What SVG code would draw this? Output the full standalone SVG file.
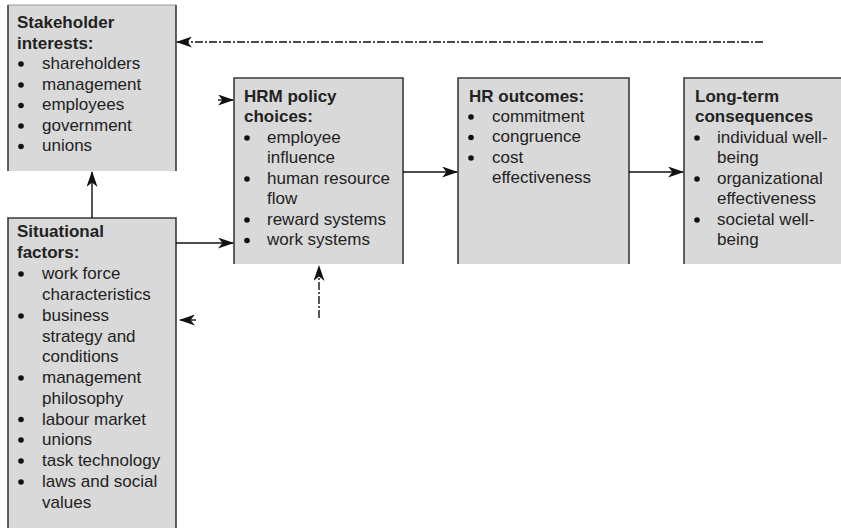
<svg xmlns="http://www.w3.org/2000/svg" width="841" height="530" viewBox="0 0 841 530">
<style>
.box{fill:#d9d9d9;stroke:none}
.edge{fill:none;stroke:#3a3a3a;stroke-width:1.6}
.edge-light{fill:none;stroke:#9a9a9a;stroke-width:1.2}
text{font-family:"Liberation Sans",Arial,sans-serif;font-size:17px;fill:#222}
.h{font-weight:bold}
.b{fill:#111}
.c{fill:none;stroke:#111;stroke-width:1.4}
.d{fill:none;stroke:#111;stroke-width:1.4;stroke-dasharray:8,2,2,2}
</style>
<defs>
<marker id="ah" viewBox="0 0 16 11" refX="15" refY="5.5" markerWidth="16" markerHeight="11" markerUnits="userSpaceOnUse" orient="auto">
<path d="M0,0 L16,5.5 L0,11 L4.5,5.5 z" fill="#111"/>
</marker>
</defs>
<rect width="841" height="530" fill="#fff"/>

<g id="stakeholder">
<rect class="box" x="8" y="5" width="168" height="166"/>
<path class="edge-light" d="M8,5 H176"/>
<path class="edge" d="M8,5 V171 M176,5 V171"/>
<text class="h" x="17" y="28">Stakeholder</text>
<text class="h" x="17" y="48.5">interests:</text>
<circle class="b" cx="21" cy="64" r="2.8"/><text x="42" y="69">shareholders</text>
<circle class="b" cx="21" cy="85" r="2.8"/><text x="42" y="89.5">management</text>
<circle class="b" cx="21" cy="105.5" r="2.8"/><text x="42" y="110">employees</text>
<circle class="b" cx="21" cy="126" r="2.8"/><text x="42" y="130.5">government</text>
<circle class="b" cx="21" cy="146.5" r="2.8"/><text x="42" y="151">unions</text>
</g>

<g id="situational">
<rect class="box" x="8" y="218" width="168" height="310"/>
<path class="edge" d="M8,528 V218 H176 V528"/>
<text class="h" x="17" y="237">Situational</text>
<text class="h" x="17" y="258">factors:</text>
<circle class="b" cx="21" cy="274" r="2.8"/><text x="42" y="279">work force</text>
<text x="42" y="300">characteristics</text>
<circle class="b" cx="21" cy="316" r="2.8"/><text x="42" y="321">business</text>
<text x="42" y="341.5">strategy and</text>
<text x="42" y="362">conditions</text>
<circle class="b" cx="21" cy="378" r="2.8"/><text x="42" y="383">management</text>
<text x="42" y="403.5">philosophy</text>
<circle class="b" cx="21" cy="419.5" r="2.8"/><text x="42" y="424.5">labour market</text>
<circle class="b" cx="21" cy="440" r="2.8"/><text x="42" y="445">unions</text>
<circle class="b" cx="21" cy="461" r="2.8"/><text x="42" y="466">task technology</text>
<circle class="b" cx="21" cy="482" r="2.8"/><text x="42" y="487">laws and social</text>
<text x="42" y="507.5">values</text>
</g>

<g id="hrm">
<rect class="box" x="234" y="78" width="169" height="186"/>
<path class="edge" d="M234,264 V78 H403 V264"/>
<text class="h" x="244" y="101.5">HRM policy</text>
<text class="h" x="244" y="122">choices:</text>
<circle class="b" cx="247" cy="138" r="2.8"/><text x="267" y="142.5">employee</text>
<text x="267" y="163">influence</text>
<circle class="b" cx="247" cy="179" r="2.8"/><text x="267" y="183.5">human resource</text>
<text x="267" y="204">flow</text>
<circle class="b" cx="247" cy="220" r="2.8"/><text x="267" y="224.5">reward systems</text>
<circle class="b" cx="247" cy="240.5" r="2.8"/><text x="267" y="245">work systems</text>
</g>

<g id="hr-outcomes">
<rect class="box" x="458" y="78" width="171" height="186"/>
<path class="edge" d="M458,264 V78 H629 V264"/>
<text class="h" x="469" y="101.5">HR outcomes:</text>
<circle class="b" cx="471" cy="117" r="2.8"/><text x="492" y="121.5">commitment</text>
<circle class="b" cx="471" cy="137.5" r="2.8"/><text x="492" y="142">congruence</text>
<circle class="b" cx="471" cy="158" r="2.8"/><text x="492" y="162.5">cost</text>
<text x="492" y="183">effectiveness</text>
</g>

<g id="long-term">
<rect class="box" x="684" y="78" width="157" height="186"/>
<path class="edge" d="M684,264 V78 H841"/>
<text class="h" x="695" y="101.5">Long-term</text>
<text class="h" x="695" y="122">consequences</text>
<circle class="b" cx="697" cy="138" r="2.8"/><text x="717" y="142.5">individual well-</text>
<text x="717" y="163">being</text>
<circle class="b" cx="697" cy="179" r="2.8"/><text x="717" y="183.5">organizational</text>
<text x="717" y="204">effectiveness</text>
<circle class="b" cx="697" cy="220" r="2.8"/><text x="717" y="224.5">societal well-</text>
<text x="717" y="245">being</text>
</g>

<g id="connectors">
<path class="c" d="M92,218 V172" marker-end="url(#ah)"/>
<path class="c" d="M176,243 H233" marker-end="url(#ah)"/>
<path class="c" d="M218,100 H233" marker-end="url(#ah)"/>
<path class="c" d="M403,172 H457" marker-end="url(#ah)"/>
<path class="c" d="M629,172 H683" marker-end="url(#ah)"/>
<path class="d" d="M763,42 H177" marker-end="url(#ah)"/>
<path class="d" d="M319,318 V266" marker-end="url(#ah)"/>
<path class="c" d="M196,320 H180" marker-end="url(#ah)"/>
</g>
</svg>
